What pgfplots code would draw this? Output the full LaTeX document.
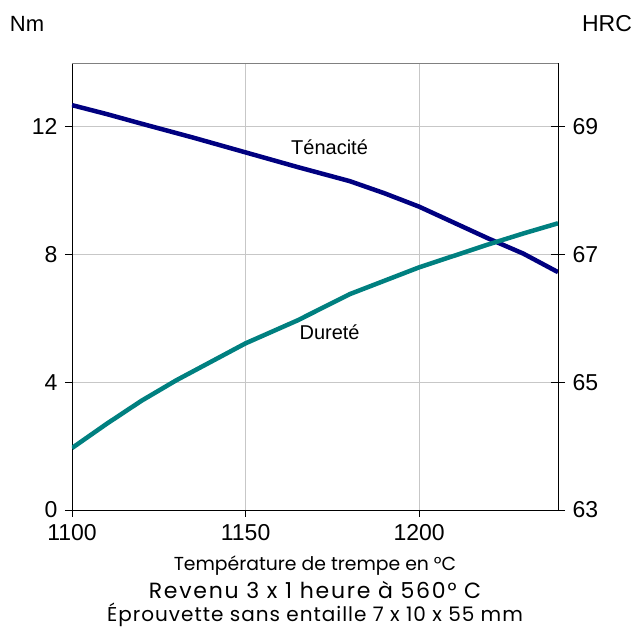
\documentclass[border=0pt]{standalone}
\usepackage{fontspec}
\setmainfont{Liberation Sans}
\newfontfamily\capfont{Poppins}
\newfontfamily\capfontwide[LetterSpace=8]{Poppins}
\newfontfamily\capfontmid[LetterSpace=5]{Poppins}
\usepackage{pgfplots}
\pgfplotsset{compat=1.18}
\definecolor{navy}{HTML}{000080}
\definecolor{tealc}{HTML}{008080}
\begin{document}
\begin{tikzpicture}
\path[use as bounding box] (-72pt,-118pt) rectangle (563pt,510pt);
% left axis: toughness
\begin{axis}[
  scale only axis,
  width=486pt, height=447pt,
  at={(0,0)}, anchor=south west,
  xmin=1100, xmax=1240, ymin=0, ymax=14,
  xtick={1100,1150,1200},
  ytick={0,4,8,12},
  axis x line*=bottom, axis y line*=left,
  axis line style={black, line width=0.8pt, -},
  tick style={black, line width=0.8pt},
  tick align=outside, major tick length=7pt,
  grid=major,
  major grid style={line width=0.8pt, draw=black!22},
  tick label style={font=\fontsize{23}{26}\selectfont},
  /pgf/number format/assume math mode=true,
  /pgf/number format/set thousands separator={},
  xticklabel style={yshift=-4pt},
  yticklabel style={xshift=-4pt},
]
\addplot[navy, line width=4.5pt] coordinates {
  (1100,12.68) (1110,12.40) (1120,12.10) (1135,11.66) (1150,11.20)
  (1165,10.74) (1180,10.30) (1190,9.92) (1200,9.50) (1210,9.00)
  (1220,8.50) (1230,8.03) (1240,7.45)
};
\draw[black!50, line width=0.8pt] (rel axis cs:0,1) -- (rel axis cs:1,1);
\node[font=\fontsize{20}{24}\selectfont, anchor=base] at (axis cs:1174.2,11.12) {Ténacité};
\node[font=\fontsize{20}{24}\selectfont, anchor=base] at (axis cs:1174.2,5.33) {Dureté};
\end{axis}
% right axis: hardness
\begin{axis}[
  scale only axis,
  width=486pt, height=447pt,
  at={(0,0)}, anchor=south west,
  xmin=1100, xmax=1240, ymin=63, ymax=70,
  axis x line=none, axis y line*=right,
  axis line style={black, line width=0.8pt, -},
  tick style={black, line width=0.8pt},
  tick align=center, major tick length=14pt,
  ytick={63,65,67,69},
  tick label style={font=\fontsize{23}{26}\selectfont},
  /pgf/number format/assume math mode=true,
  yticklabel style={xshift=4pt},
]
\addplot[tealc, line width=4.5pt] coordinates {
  (1100,63.97) (1110,64.35) (1120,64.71) (1130,65.03) (1150,65.61)
  (1165,65.97) (1180,66.38) (1200,66.80) (1220,67.16) (1230,67.33)
  (1240,67.49)
};
\end{axis}
\node[font=\fontsize{22}{26}\selectfont] at (-45pt,486pt) {Nm};
\node[font=\fontsize{23}{26}\selectfont] at (535pt,486pt) {HRC};
\node[font=\capfont\fontsize{18.8}{20}\selectfont, anchor=base] at (243pt,-61pt) {Température de trempe en °C};
\node[font=\capfontwide\fontsize{22}{24}\selectfont, anchor=base] at (243pt,-89pt) {Revenu 3 x 1 heure à 560° C};
\node[font=\capfontmid\fontsize{20}{24}\selectfont, anchor=base] at (243pt,-112pt) {Éprouvette sans entaille 7 x 10 x 55 mm};
\end{tikzpicture}
\end{document}
